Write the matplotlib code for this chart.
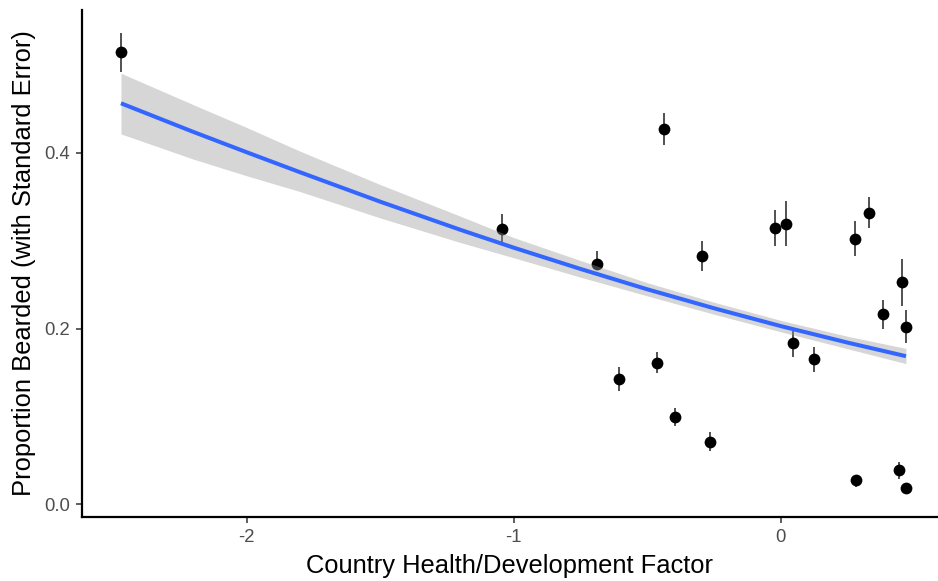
import matplotlib
matplotlib.use("Agg")
import matplotlib.pyplot as plt
import numpy as np

# ---- data ----
dev_factor = [-2.471, -1.044, -0.690, -0.606, -0.465, -0.436, -0.395, -0.296, -0.264,
              -0.022, 0.020, 0.046, 0.126, 0.279, 0.281, 0.332, 0.382, 0.443, 0.455,
              0.469, 0.469]
prop_bearded = [0.515, 0.313, 0.274, 0.143, 0.161, 0.427, 0.099, 0.283, 0.071,
                0.315, 0.319, 0.184, 0.165, 0.302, 0.027, 0.332, 0.217, 0.039, 0.253,
                0.202, 0.018]
se_low = [0.492, 0.299, 0.267, 0.129, 0.149, 0.409, 0.089, 0.265, 0.060,
          0.294, 0.294, 0.167, 0.151, 0.283, 0.020, 0.314, 0.200, 0.029, 0.226,
          0.183, 0.013]
se_high = [0.537, 0.331, 0.288, 0.156, 0.173, 0.445, 0.109, 0.300, 0.082,
           0.335, 0.345, 0.198, 0.179, 0.322, 0.033, 0.350, 0.233, 0.048, 0.279,
           0.221, 0.023]

# fitted trend (at several x positions)
fit_x = [-2.471, -2.2, -2.0, -1.8, -1.5, -1.2, -1.0, -0.75, -0.5, -0.25, 0.0, 0.25, 0.469]
fit_y = [0.4566, 0.4240, 0.4008, 0.3780, 0.3445, 0.3125, 0.2921, 0.2679, 0.2447, 0.2231, 0.2028, 0.1840, 0.1685]
fit_lo = [0.4217, 0.3930, 0.3740, 0.3560, 0.3260, 0.2980, 0.2806, 0.2585, 0.2372, 0.2163, 0.1963, 0.1770, 0.1600]
fit_hi = [0.4908, 0.4550, 0.4290, 0.4020, 0.3640, 0.3280, 0.3036, 0.2775, 0.2522, 0.2300, 0.2093, 0.1912, 0.1774]

xticks = [-2, -1, 0]
yticks = [0.0, 0.2, 0.4]

plt.rcParams['font.family'] = ['Liberation Sans', 'DejaVu Sans']

fig = plt.figure(figsize=(9.38, 5.81), dpi=100)
ax = fig.add_axes([0.0874, 0.110, 0.9126, 0.873])

x = np.array(dev_factor)
y = np.array(prop_bearded)
lo = np.array(se_low)
hi = np.array(se_high)

ax.vlines(x, lo, hi, color='#222222', lw=1.1, zorder=2)
ax.scatter(x, y, s=72, color='black', zorder=2.5, linewidths=0)

ax.fill_between(fit_x, fit_lo, fit_hi, color='#999999', alpha=0.4, lw=0, zorder=3)
ax.plot(fit_x, fit_y, color='#3366FF', lw=2.9, zorder=4, solid_capstyle='butt')

ax.set_xlim(-2.617, 0.589)
ax.set_ylim(-0.0148, 0.563)
ax.set_xticks(xticks)
ax.set_xticklabels([str(t) for t in xticks])
ax.set_yticks(yticks)
ax.set_yticklabels([f"{t:.1f}" for t in yticks])

for s in ['top', 'right']:
    ax.spines[s].set_visible(False)
for s in ['left', 'bottom']:
    ax.spines[s].set_linewidth(1.6)
    ax.spines[s].set_color('black')

ax.tick_params(axis='both', length=4, width=1.1, color='#333333',
               labelcolor='#4D4D4D', labelsize=13.3, pad=4.5)

ax.set_xlabel('Country Health/Development Factor', fontsize=18.4, color='black', labelpad=6)
ax.set_ylabel('Proportion Bearded (with Standard Error)', fontsize=18.4, color='black', labelpad=6)

fig.savefig('out.png', dpi=100, facecolor='white')
